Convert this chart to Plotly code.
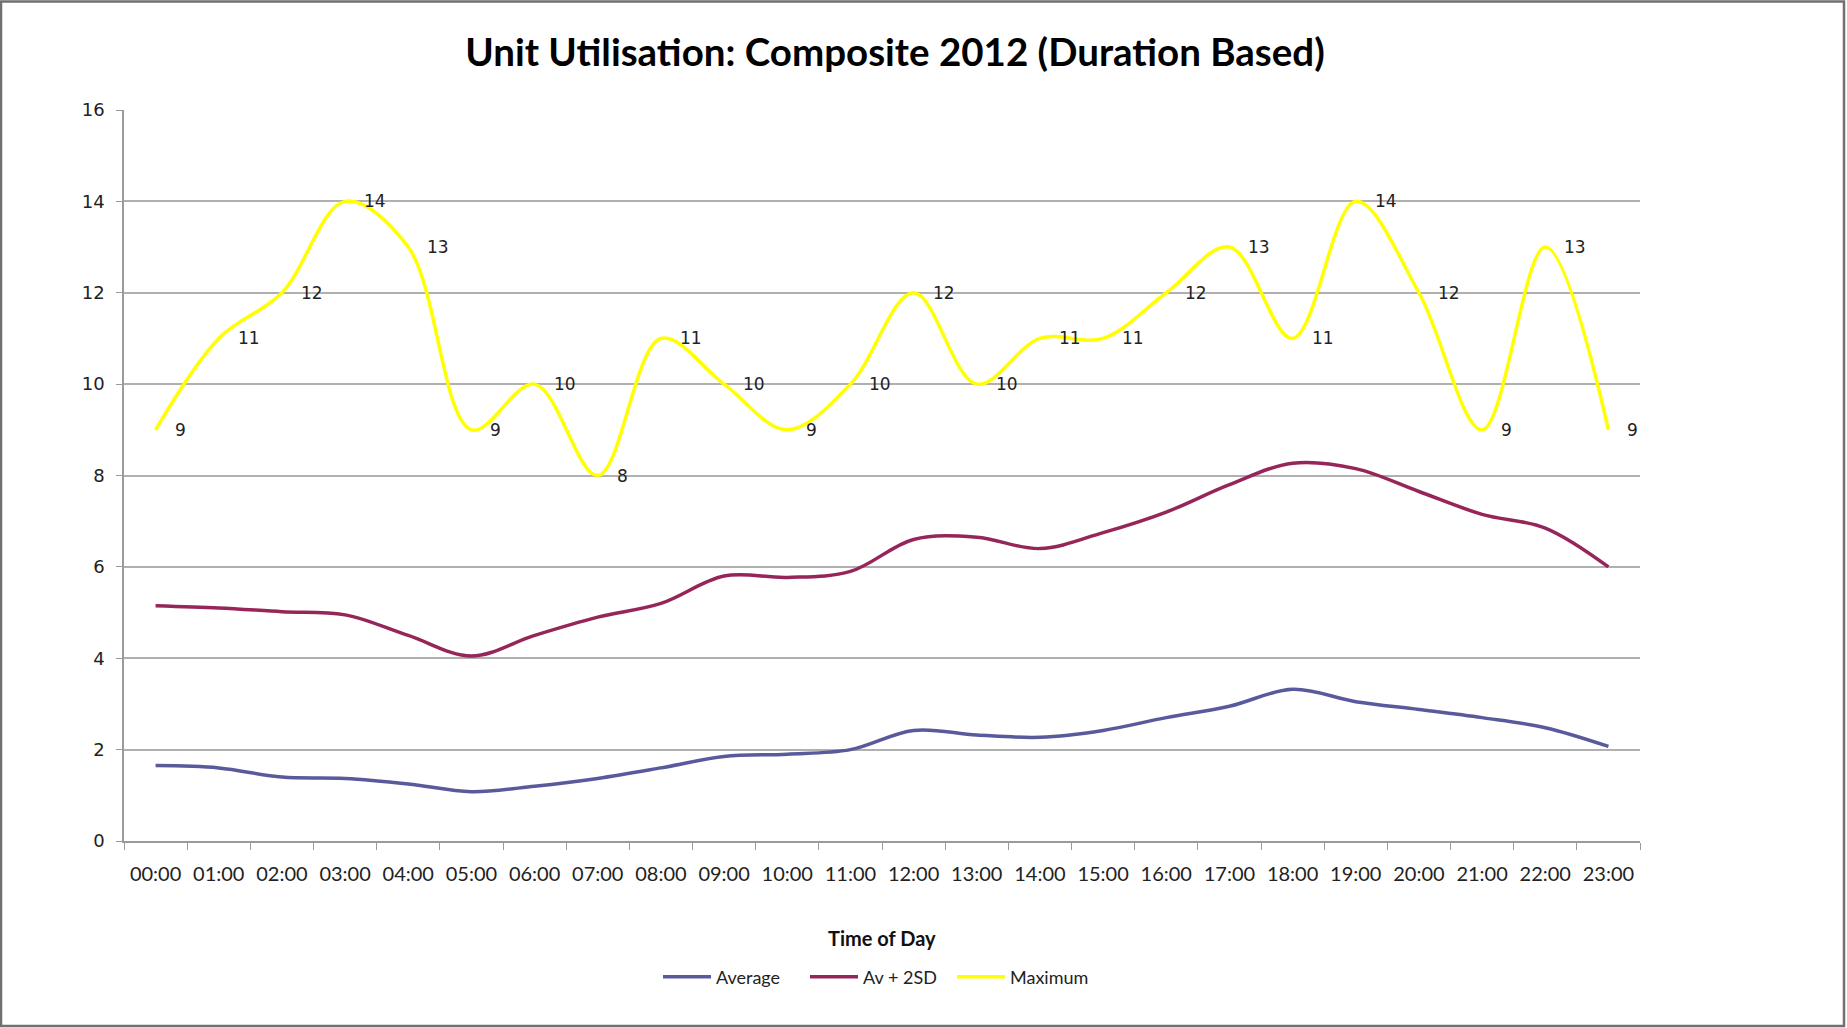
import plotly.graph_objects as go

# Hour-of-day categories
hours = ["00:00", "01:00", "02:00", "03:00", "04:00", "05:00", "06:00", "07:00",
         "08:00", "09:00", "10:00", "11:00", "12:00", "13:00", "14:00", "15:00",
         "16:00", "17:00", "18:00", "19:00", "20:00", "21:00", "22:00", "23:00"]

# Units in use per hour
average = [1.65, 1.6, 1.4, 1.37, 1.25, 1.08, 1.2, 1.37, 1.6, 1.85, 1.9, 2.0,
           2.42, 2.32, 2.27, 2.42, 2.7, 2.95, 3.32, 3.05, 2.88, 2.7, 2.48, 2.07]
av_plus_2sd = [5.15, 5.1, 5.02, 4.95, 4.5, 4.05, 4.5, 4.9, 5.2, 5.8, 5.77, 5.9,
               6.6, 6.65, 6.4, 6.75, 7.2, 7.8, 8.27, 8.15, 7.65, 7.15, 6.85, 6.0]
maximum = [9, 11, 12, 14, 13, 9, 10, 8, 11, 10, 9, 10,
           12, 10, 11, 11, 12, 13, 11, 14, 12, 9, 13, 9]

y_ticks = [0, 2, 4, 6, 8, 10, 12, 14, 16]

W, H = 1847, 1028
L, R, T, B = 124, 1640, 110, 841
PW, PH = R - L, B - T


def px_x(px):
    return (px - L) / PW


def px_y(py):
    return (B - py) / PH


series = [
    ("Average", average, "#585a9c"),
    ("Av + 2SD", av_plus_2sd, "#962659"),
    ("Maximum", maximum, "#ffff00"),
]

fig = go.Figure()
for name, vals, color in series:
    fig.add_trace(go.Scatter(
        x=hours, y=vals, name=name, mode="lines",
        line=dict(color=color, width=3.5, shape="spline", smoothing=1.0),
    ))

# Value labels beside each point of the Maximum series
annotations = []
for h, v in zip(hours, maximum):
    annotations.append(dict(
        x=h, y=v, xref="x", yref="y", text=str(v), showarrow=False,
        xanchor="left", yanchor="middle", xshift=17,
        font=dict(family="DejaVu Sans", size=17, color="#222222"),
    ))

# Axis title
annotations.append(dict(
    x=px_x(882), y=px_y(938), xref="paper", yref="paper",
    text="<b>Time of Day</b>", showarrow=False,
    xanchor="center", yanchor="middle",
    font=dict(family="Lato", size=20, color="#111111"),
))

fig.update_layout(
    width=W, height=H,
    margin=dict(l=L, r=W - R, t=T, b=H - B, pad=0),
    paper_bgcolor="white", plot_bgcolor="white",
    title=dict(
        text="<b>Unit Utilisation: Composite 2012 (Duration Based)</b>",
        x=895 / W, xref="container", xanchor="center",
        y=1 - 53 / H, yref="container", yanchor="middle",
        font=dict(family="Lato", size=38.5, color="#000000"),
    ),
    xaxis=dict(
        type="category", range=[-0.5, 23.5],
        showgrid=False, showline=True, linecolor="#9a9a9a", linewidth=1.5,
        ticks="outside", tickson="boundaries", ticklen=7, tickcolor="#9a9a9a",
        ticklabelstandoff=14,
        tickfont=dict(family="Lato", size=20, color="#222222"),
        zeroline=False,
    ),
    yaxis=dict(
        range=[0, 16], tickvals=y_ticks, ticktext=[str(v) for v in y_ticks],
        showgrid=True, gridcolor="#b0b0b0", gridwidth=1.5,
        showline=True, linecolor="#9a9a9a", linewidth=1.5,
        ticks="outside", ticklen=6, tickcolor="#9a9a9a",
        ticklabelstandoff=8,
        tickfont=dict(family="DejaVu Sans", size=18, color="#222222"),
        zeroline=False,
    ),
    legend=dict(
        orientation="h", x=px_x(658), xanchor="left",
        y=px_y(977), yanchor="middle",
        font=dict(family="Lato", size=18, color="#222222"),
        itemwidth=48,
        entrywidth=84, entrywidthmode="pixels",
        bgcolor="rgba(0,0,0,0)",
    ),
    annotations=annotations,
    shapes=[
        dict(type="rect", xref="paper", yref="paper",
             x0=px_x(1), x1=px_x(1844), y0=px_y(1026), y1=px_y(1.5),
             line=dict(color="#707070", width=2.5), layer="above"),
    ],
)

fig.write_html("out.html")
